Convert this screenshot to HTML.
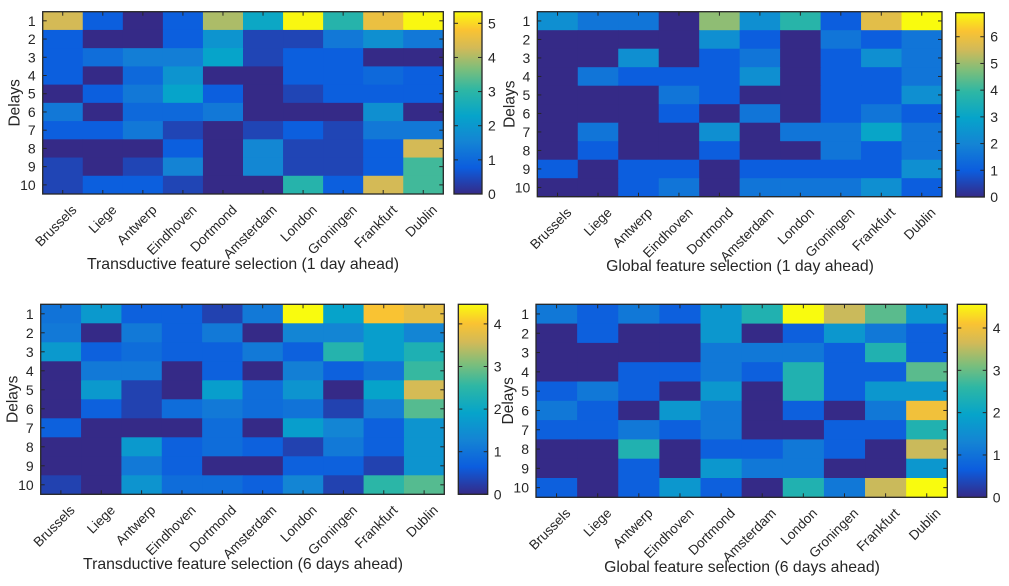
<!DOCTYPE html>
<html><head><meta charset="utf-8">
<style>
html,body{margin:0;padding:0;background:#fff;}
svg{display:block;font-family:"Liberation Sans",sans-serif;}
</style></head>
<body>
<svg id="chart" width="1009" height="586" viewBox="0 0 1009 586" xmlns="http://www.w3.org/2000/svg">
<defs>
<linearGradient id="parula" x1="0" y1="1" x2="0" y2="0">
<stop offset="0" stop-color="rgb(53,42,135)"/>
<stop offset="0.143" stop-color="rgb(12,93,222)"/>
<stop offset="0.286" stop-color="rgb(20,132,212)"/>
<stop offset="0.429" stop-color="rgb(6,164,202)"/>
<stop offset="0.571" stop-color="rgb(46,183,164)"/>
<stop offset="0.68" stop-color="rgb(120,190,125)"/>
<stop offset="0.80" stop-color="rgb(210,186,88)"/>
<stop offset="0.9" stop-color="rgb(250,195,50)"/>
<stop offset="1" stop-color="rgb(249,251,14)"/>
</linearGradient>
</defs>
</svg>
<script>
const cities = ["Brussels","Liege","Antwerp","Eindhoven","Dortmond","Amsterdam","London","Groningen","Frankfurt","Dublin"];
const delays = ["1","2","3","4","5","6","7","8","9","10"];
const titles = ["Transductive feature selection (1 day ahead)","Global feature selection (1 day ahead)","Transductive feature selection (6 days ahead)","Global feature selection (6 days ahead)"];
const maxValues = [5.34, 6.9, 4.46, 4.56];
const cbTicks1 = [0,1,2,3,4,5];
const cbTicks2 = [0,1,2,3,4,5,6];
const cbTicks3 = [0,1,2,3,4];
const cbTicks4 = [0,1,2,3,4];
const values1 = [
[4.3,0.8,0,0.8,4.0,2.4,5.3,2.9,4.6,5.3],
[0.8,0,0,0.8,1.9,0.4,0.4,1.3,1.8,1.3],
[0.8,1.1,1.4,1.4,2.3,0.4,0.8,0.8,0,0],
[0.8,0,1.0,1.9,0,0,0.8,0.8,1.0,0.8],
[0,0.8,1.3,2.3,0.8,0,0.4,0.8,0.8,0.8],
[1.3,0,1.0,1.0,1.3,0,0,0,1.8,0],
[0.8,0.8,1.3,0.4,0,0.4,0.8,0.4,1.3,1.3],
[0,0,0,0.8,0,1.6,0.4,0.4,0.8,4.3],
[0.4,0,0.4,1.5,0,1.6,0.4,0.4,0.8,3.2],
[0.4,0.8,0.8,0.4,0,0,2.9,0.8,4.3,3.2]];
const values2 = [
[2.3,1.6,1.6,0,4.9,2.3,3.8,1.0,5.8,6.9],
[0,0,0,0,2.3,1.0,0,1.6,1.0,1.6],
[0,0,2.3,0,1.0,1.6,0,1.0,2.3,1.6],
[0,1.6,1.0,1.0,1.0,2.3,0,1.0,1.0,1.6],
[0,0,0,1.6,1.0,0,0,1.0,1.0,2.3],
[0,0,0,1.0,0,1.6,0,1.0,1.6,1.0],
[0,1.6,0,0,2.3,0,1.6,1.6,3.0,1.6],
[0,1.0,0,0,1.0,0,0,1.6,1.0,1.6],
[1.0,0,1.0,1.0,0,1.0,1.0,1.0,1.0,2.3],
[0,0,1.0,1.6,0,1.6,1.6,1.6,2.3,1.0]];
const values3 = [
[1.0,1.7,0.7,0.7,0.3,1.1,4.46,1.9,4.0,3.8],
[1.1,0,1.1,0.7,1.1,0,1.3,1.3,1.8,1.3],
[1.7,0.7,0.9,0.7,0.7,1.1,0.7,2.4,1.8,2.3],
[0,1.1,1.1,0,0.7,0,1.2,0.7,1.0,2.6],
[0,1.7,0.3,0,1.8,0.9,1.6,0,1.9,3.6],
[0,0.7,0.3,0.9,1.1,0.9,1.0,0.3,1.2,2.8],
[0.7,0,0,0,0.9,0,1.8,1.3,0.7,1.6],
[0,0,1.7,0.7,0.9,0.7,0.3,1.1,0.7,1.6],
[0,0,1.1,0.7,0,0,0.7,0.7,0.3,1.6],
[0.3,0,1.6,0.9,0.9,0.7,1.3,0.3,2.5,2.8]];
const values4 = [
[1.1,0.7,1.1,0.7,1.7,2.4,4.56,3.6,2.9,1.7],
[0,0.7,0,0,1.7,0,0.7,1.7,1.1,0.7],
[0,0,0,0,1.1,1.1,1.1,0.7,2.4,0.7],
[0,0,0.7,0.7,1.1,0.7,2.4,0.7,0.7,2.9],
[0.7,1.1,0.7,0,1.7,0,2.4,0.7,1.7,1.7],
[1.1,0.7,0,1.7,1.1,0,0.7,0,1.1,4.0],
[0.7,0.7,1.1,0.7,1.1,0,0,0.7,0.7,2.4],
[0,0,2.4,0,0.7,0.7,1.1,0.7,0,3.6],
[0,0,0.7,0,1.7,1.1,1.1,0,0,1.7],
[0.7,0,0.7,1.7,0.7,0,2.4,1.1,3.6,4.56]];

const stops=[[0,53,42,135],[0.143,12,93,222],[0.286,20,132,212],[0.429,6,164,202],[0.571,46,183,164],[0.68,120,190,125],[0.80,210,186,88],[0.9,250,195,50],[1,249,251,14]];
function parula(t){t=Math.max(0,Math.min(1,t));
 for(let i=1;i<stops.length;i++){if(t<=stops[i][0]){const a=stops[i-1],b=stops[i];const f=(t-a[0])/(b[0]-a[0]);
  return `rgb(${Math.round(a[1]+f*(b[1]-a[1]))},${Math.round(a[2]+f*(b[2]-a[2]))},${Math.round(a[3]+f*(b[3]-a[3]))})`;}}
 return "rgb(249,251,14)";}

const layouts=[
 {x0:42.7,x1:443.3,y0:11.7,y1:194,cx0:454,cx1:482,cy0:11.7,cy1:194,tx:243,ty:269},
 {x0:537.3,x1:942,y0:11.7,y1:196.7,cx0:955.7,cx1:984.3,cy0:12.7,cy1:197,tx:740,ty:271},
 {x0:40.7,x1:444.3,y0:304.3,y1:494.3,cx0:458.3,cx1:487.7,cy0:304.3,cy1:494.3,tx:243,ty:569},
 {x0:536,x1:947.3,y0:304.3,y1:497.3,cx0:957.3,cx1:986.7,cy0:304.3,cy1:497.3,tx:742,ty:572}];
const allValues=[values1,values2,values3,values4];
const allTicks=[cbTicks1,cbTicks2,cbTicks3,cbTicks4];
const NS="http://www.w3.org/2000/svg";
const svg=document.getElementById("chart");
function mk(tag,attrs,parent){const e=document.createElementNS(NS,tag);for(const k in attrs)e.setAttribute(k,attrs[k]);(parent||svg).appendChild(e);return e;}

layouts.forEach((L,p)=>{
 const vals=allValues[p], mx=maxValues[p];
 const g=mk("g",{});
 
 
 const cw=(L.x1-L.x0)/cities.length, ch=(L.y1-L.y0)/delays.length;
 const xScale=i=>L.x0+i*cw, yScale=j=>L.y0+j*ch;
 vals.forEach((row,j)=>row.forEach((v,i)=>{
  const r=mk("rect",{x:xScale(i),y:yScale(j),width:cw+0.5,height:ch+0.5,fill:parula(v/mx)},g);
  
  
 }));
 const frame=mk("rect",{x:L.x0,y:L.y0,width:L.x1-L.x0,height:L.y1-L.y0,fill:"none",stroke:"#262626","stroke-width":1.3},g);
 
 
 delays.forEach((d,j)=>{
  const y=yScale(j)+ch/2;
  mk("line",{x1:L.x0,x2:L.x0+4,y1:y,y2:y,stroke:"#262626"},g);
  mk("line",{x1:L.x1,x2:L.x1-4,y1:y,y2:y,stroke:"#262626"},g);
  const t=mk("text",{x:L.x0-7,y:y+5,"text-anchor":"end","font-size":14,fill:"#262626"},g);
  t.textContent=d;
  
  
 });
 cities.forEach((c,i)=>{
  const x=xScale(i)+cw/2;
  mk("line",{x1:x,x2:x,y1:L.y0,y2:L.y0+4,stroke:"#262626"},g);
  mk("line",{x1:x,x2:x,y1:L.y1,y2:L.y1-4,stroke:"#262626"},g);
  const t=mk("text",{transform:`translate(${x+8},${L.y1+10}) rotate(-45)`,"text-anchor":"end","font-size":13.5,fill:"#262626",dy:"0.7em"},g);
  t.textContent=c;
  
  
 });
 const yl=mk("text",{transform:`translate(${L.x0-23},${(L.y0+L.y1)/2}) rotate(-90)`,"text-anchor":"middle","font-size":15.5,fill:"#262626"},g);
 yl.textContent="Delays";
 
 
 const tt=mk("text",{x:L.tx,y:L.ty,"text-anchor":"middle","font-size":15.8,fill:"#262626"},g);
 tt.textContent=titles[p];
 
 
 const cb=mk("rect",{x:L.cx0,y:L.cy0,width:L.cx1-L.cx0,height:L.cy1-L.cy0,fill:"url(#parula)",stroke:"#262626","stroke-width":1.3},g);
 
 
 const cs=v=>L.cy1-(v/mx)*(L.cy1-L.cy0);
 allTicks[p].forEach(v=>{
  const y=cs(v);
  mk("line",{x1:L.cx1,x2:L.cx1-4,y1:y,y2:y,stroke:"#262626"},g);
  mk("line",{x1:L.cx0,x2:L.cx0+4,y1:y,y2:y,stroke:"#262626"},g);
  const t=mk("text",{x:L.cx1+6,y:y+5,"font-size":14,fill:"#262626"},g);
  t.textContent=String(v);
  
  
 });
});
</script>
</body></html>
